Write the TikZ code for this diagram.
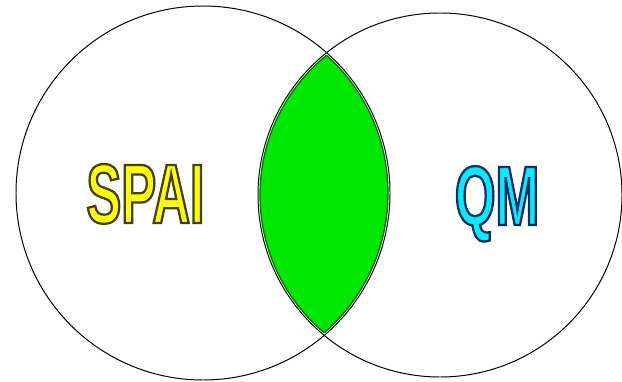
\documentclass[tikz,border=0pt]{standalone}
\usepackage{fontspec}
\usepackage{xcolor}
\newfontfamily\vennfont{Liberation Sans}[FakeStretch=0.62]
\usetikzlibrary{positioning}

\definecolor{spaifill}{RGB}{255,255,0}
\definecolor{qmfill}{RGB}{0,238,255}
\definecolor{lensgreen}{RGB}{0,232,0}
\definecolor{lensedge}{RGB}{0,110,0}

% filled letters with a thin dark rim (fill, then stroke)
\newcommand\outlined[3]{%
    \textcolor{#1}{\special{pdf:literal direct 2 Tr 1.6 w #2 RG}#3\special{pdf:literal direct 0 Tr}}}

\begin{document}
\begin{tikzpicture}[x=0.025cm,y=-0.025cm]
    \tikzset{venn/.style={draw=black,line width=0.7pt},
             lens rim/.style={draw=lensedge,line width=0.9pt},
             label text/.style={font=\vennfont\bfseries\fontsize{60}{60}\selectfont,inner sep=0pt,anchor=base}}
    \useasboundingbox (0,0) rectangle (622,381);

    % Circles
    \coordinate (lc) at (203,193);
    \coordinate (rc) at (440,195);
    \draw[venn] (lc) circle[radius=187];
    \draw[venn] (rc) circle[radius=182];

    % Overlap
    \begin{scope}
        \clip (lc) circle[radius=185];
        \fill[lensgreen] (rc) circle[radius=180];
        \draw[lens rim] (rc) circle[radius=180];
    \end{scope}
    \begin{scope}
        \clip (rc) circle[radius=180];
        \draw[lens rim] (lc) circle[radius=185];
    \end{scope}

    % Labels
    \node[label text] (spai) at (145.5,223) {\outlined{spaifill}{0.27 0.24 0.04}{SPAI}};
    \node[label text] (qm) at (497,225) {\outlined{qmfill}{0.08 0.16 0.4}{QM}};
\end{tikzpicture}
\end{document}
